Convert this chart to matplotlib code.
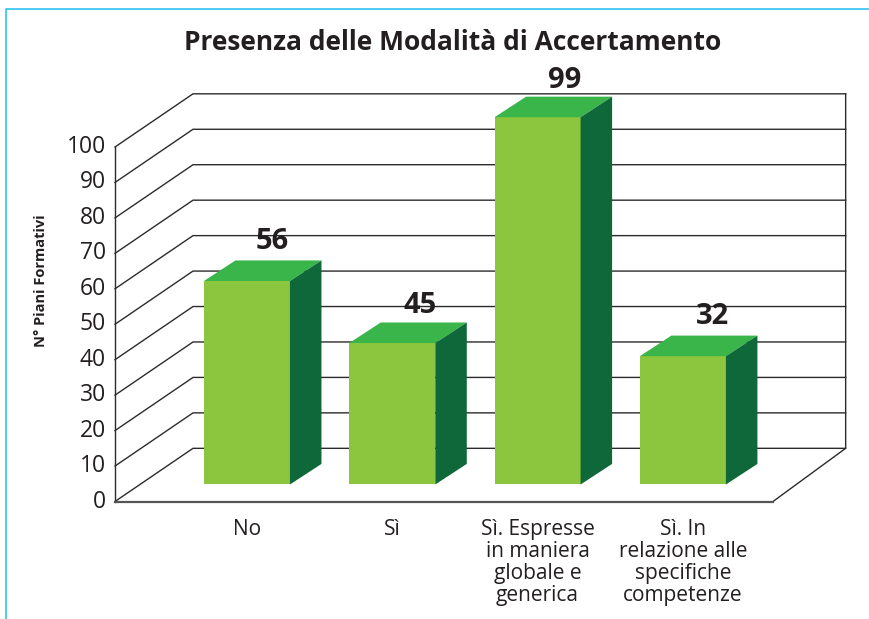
import matplotlib
matplotlib.use('Agg')
import matplotlib.pyplot as plt
from matplotlib.lines import Line2D
from matplotlib.patches import Polygon

W, H = 869, 619

categories = ['No', 'Sì', 'Sì. Espresse\nin maniera\nglobale e\ngenerica',
              'Sì. In\nrelazione alle\nspecifiche\ncompetenze']
printed_values = [56, 45, 99, 32]
# tops of the bars as drawn, on the axis scale (they differ from the printed labels)
drawn_tops = [62.2, 44.7, 108.4, 41.0]
yticks = [0, 10, 20, 30, 40, 50, 60, 70, 80, 90, 100]

TEXT = '#231f20'
plt.rcParams['font.family'] = ['Open Sans', 'DejaVu Sans']

fig = plt.figure(figsize=(W / 100, H / 100), dpi=100)
# front plane of the fake 3d box: x 115..773 px, y 501.5..147 px
ax = fig.add_axes([115 / W, 1 - 501.5 / H, 658 / W, 354.5 / H])
xmin, xmax = -0.908, 3.62
ax.set_xlim(xmin, xmax)
ax.set_ylim(0, 100)

bar_w = 0.592
floor = 4.8
# depth offsets in data units
wall_dx, wall_dy = 78 / 145.3, 15.0
wall_right = 4.12
bar_dx, bar_dy = 31.5 / 145.3, 5.8

# back wall lines
for v in yticks:
    ax.plot([xmin, xmin + wall_dx, wall_right], [v, v + wall_dy, v + wall_dy],
            color='#2b2b2b', lw=1.0, clip_on=False, zorder=1, solid_joinstyle='miter')
ax.plot([wall_right, wall_right, xmax], [100 + wall_dy, wall_dy, 0],
        color='#2b2b2b', lw=1.0, clip_on=False, zorder=1)

# bars
x = range(len(categories))
bars = ax.bar(x, [t - floor for t in drawn_tops], bottom=floor, width=bar_w,
              color='#8cc63f', linewidth=0, zorder=3)
for b in bars:
    b.set_clip_on(False)
for i, top in zip(x, drawn_tops):
    l, r = i - bar_w / 2, i + bar_w / 2
    ax.add_patch(Polygon([(l, top), (r, top), (r + bar_dx, top + bar_dy), (l + bar_dx, top + bar_dy)],
                         closed=True, fc='#39b54a', ec='none', clip_on=False, zorder=3))
    ax.add_patch(Polygon([(r, floor), (r + bar_dx, floor + bar_dy), (r + bar_dx, top + bar_dy), (r, top)],
                         closed=True, fc='#0f6839', ec='none', clip_on=False, zorder=3))

# label offsets in points from the top of each bar's front face
label_off = [(18.2, 28.2), (20.2, 27.0), (19.5, 26.6), (21.4, 28.8)]
for i, top, val, off in zip(x, drawn_tops, printed_values, label_off):
    ax.annotate(str(val), (i, top), xytext=off, textcoords='offset points',
                ha='center', va='center', fontsize=21, fontweight='bold', color=TEXT,
                annotation_clip=False, zorder=5)

for s in ('top', 'right'):
    ax.spines[s].set_visible(False)
ax.spines['left'].set_linewidth(1.0)
ax.spines['left'].set_color('#2b2b2b')
ax.spines['bottom'].set_linewidth(1.6)
ax.spines['bottom'].set_color('#555555')

ax.set_yticks(yticks)
ax.set_yticklabels([str(v) for v in yticks], fontsize=16.5, color=TEXT, va='center')
for lab in ax.get_yticklabels():
    lab.set_y(lab.get_position()[1])
ax.tick_params(axis='y', length=0, pad=6.5)
ax.set_xticks(list(x))
ax.set_xticklabels(categories, fontsize=15, color=TEXT, linespacing=1.06)
ax.tick_params(axis='x', length=0, pad=12.5)

fig.text(453 / W, 1 - 43 / H, 'Presenza delle Modalità di Accertamento', ha='center', va='center',
         fontsize=19, fontweight='bold', color=TEXT)
fig.text(41 / W, 1 - 281 / H, 'N° Piani Formativi', rotation=90, ha='center', va='center',
         fontsize=10.5, fontweight='bold', color=TEXT)

# page frame, cyan
fig.add_artist(Line2D([6 / W, 6 / W, 1], [0, 1 - 8.5 / H, 1 - 8.5 / H], color='#2fc4f4', lw=1.2))

fig.savefig('out.png', dpi=100)
